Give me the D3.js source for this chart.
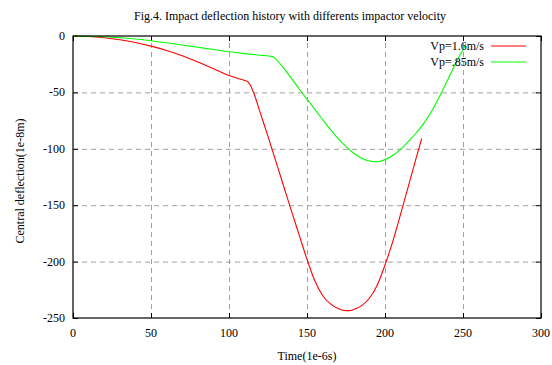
<!DOCTYPE html>
<html>
<head>
<meta charset="utf-8">
<script src="https://cdn.jsdelivr.net/npm/d3@7"></script>
<style>
  body { margin: 0; background: #fff; }
  text { font-family: "Liberation Serif", "Times New Roman", serif; font-size: 12px; fill: #000; }
  .grid line { stroke: #a0a0a0; stroke-dasharray: 5,4; }
  .grid path { display: none; }
</style>
</head>
<body>
<svg id="chart" width="552" height="365"></svg>
<script>
// data (time in 1e-6 s, deflection in 1e-8 m)
var redTime = [0, 10, 20, 30, 40, 50, 60, 70, 80, 90, 100, 105, 110, 112, 114, 116, 120, 125, 130, 135, 140, 145, 150,
               155, 160, 165, 170, 175, 177, 180, 185, 190, 195, 200, 205, 210, 215, 220, 223.5];
var redDefl = [0, -0.4, -1.5, -3.3, -5.8, -9, -12.8, -17.5, -23, -29, -35, -37.3, -39.5, -40.5, -44.5, -51, -68, -89, -111, -133, -155, -176.5, -198,
               -217, -230, -237.5, -241.5, -243.5, -243.5, -242.5, -239, -232.5, -221, -203, -182, -158, -133, -108, -91];

var greenTime = [0, 10, 20, 30, 40, 50, 60, 70, 80, 90, 100, 110, 120, 128, 130, 135, 140, 145, 150, 155, 160, 165, 170,
                 175, 180, 185, 190, 193, 196, 200, 205, 210, 215, 220, 225, 230, 235, 240, 245, 250, 252];
var greenDefl = [0, -0.2, -0.7, -1.5, -2.7, -4.2, -6, -8, -10, -12, -14, -15.6, -17, -18.3, -20.5, -28.5, -37.5, -47, -56, -65, -74, -83, -91,
                 -98, -104, -108.3, -110.8, -111.5, -111.2, -109.6, -106, -100.5, -93.5, -86, -77, -66.5, -53.5, -39.5, -25, -12, -7];

var seriesNames = ['Vp=1.6m/s', 'Vp=.85m/s'];
var seriesColors = ['#ff0000', '#00ff00'];
var xTicks = [0, 50, 100, 150, 200, 250, 300];
var yTicks = [0, -50, -100, -150, -200, -250];

var svg = d3.select('#chart');
var margin = { left: 73, right: 11, top: 36, bottom: 47 };
var W = 552, H = 365;
var width = W - margin.left - margin.right;
var height = H - margin.top - margin.bottom;

var x = d3.scaleLinear().domain([0, 300]).range([0, width]);
var y = d3.scaleLinear().domain([-250, 0]).range([height, 0]);

var g = svg.append('g').attr('transform', 'translate(' + margin.left + ',' + margin.top + ')');

// grid, dashed, skipping lines on the frame
g.append('g').attr('class', 'grid')
  .attr('transform', 'translate(0,' + height + ')')
  .call(d3.axisBottom(x).tickValues(xTicks.slice(1, -1)).tickSize(-height).tickFormat(''));
g.append('g').attr('class', 'grid')
  .call(d3.axisLeft(y).tickValues(yTicks.slice(1, -1)).tickSize(-width).tickFormat(''));

// tick marks inside the frame on all four sides
function inTicks(sel, axis) {
  sel.call(axis);
  sel.select('.domain').remove();
  sel.selectAll('.tick line').attr('stroke', '#000');
  sel.selectAll('.tick text').remove();
}
g.append('g').attr('transform', 'translate(0,' + height + ')')
  .call(inTicks, d3.axisTop(x).tickValues(xTicks).tickSize(5));
g.append('g').call(inTicks, d3.axisBottom(x).tickValues(xTicks).tickSize(5));
g.append('g').call(inTicks, d3.axisRight(y).tickValues(yTicks).tickSize(5));
g.append('g').attr('transform', 'translate(' + width + ',0)')
  .call(inTicks, d3.axisLeft(y).tickValues(yTicks).tickSize(5));

// tick labels
g.selectAll('.xlab').data(xTicks).enter().append('text')
  .attr('x', function(d) { return x(d); })
  .attr('y', height + 19)
  .attr('text-anchor', 'middle')
  .text(function(d) { return d; });
g.selectAll('.ylab').data(yTicks).enter().append('text')
  .attr('x', -8)
  .attr('y', function(d) { return y(d) + 4; })
  .attr('text-anchor', 'end')
  .text(function(d) { return d; });

// curves
var line = d3.line()
  .x(function(d) { return x(d[0]); })
  .y(function(d) { return y(d[1]); })
  .curve(d3.curveMonotoneX);

var series = [d3.zip(redTime, redDefl), d3.zip(greenTime, greenDefl)];
series.forEach(function(s, i) {
  g.append('path')
    .datum(s)
    .attr('fill', 'none')
    .attr('stroke', seriesColors[i])
    .attr('stroke-width', 1.1)
    .attr('d', line);
});

// frame
g.append('rect')
  .attr('width', width).attr('height', height)
  .attr('fill', 'none').attr('stroke', '#000').attr('stroke-width', 1.2);

// legend
var legend = g.append('g').attr('transform', 'translate(' + (width - 57) + ',10)');
seriesNames.forEach(function(name, i) {
  legend.append('text')
    .attr('x', 0).attr('y', i * 16 + 4)
    .attr('text-anchor', 'end')
    .text(name);
  legend.append('line')
    .attr('x1', 7).attr('x2', 42)
    .attr('y1', i * 16).attr('y2', i * 16)
    .attr('stroke', seriesColors[i]).attr('stroke-width', 1.1);
});

// titles
svg.append('text')
  .attr('x', 290).attr('y', 20)
  .attr('text-anchor', 'middle')
  .text('Fig.4. Impact deflection history with differents impactor velocity');
svg.append('text')
  .attr('x', margin.left + width / 2).attr('y', 360)
  .attr('text-anchor', 'middle')
  .text('Time(1e-6s)');
svg.append('text')
  .attr('transform', 'translate(24,181) rotate(-90)')
  .attr('text-anchor', 'middle')
  .text('Central deflection(1e-8m)');
</script>
</body>
</html>
